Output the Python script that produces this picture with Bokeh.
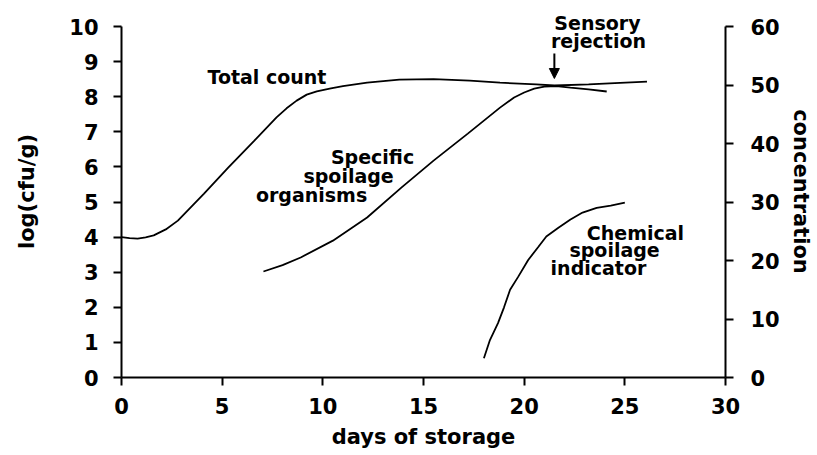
from bokeh.plotting import figure
from bokeh.models import Range1d, LinearAxis, SingleIntervalTicker, Label, Arrow, NormalHead
from bokeh.embed import file_html
from bokeh.resources import INLINE

# --- data ---
tc_days = [0, 0.4, 0.8, 1.2, 1.6, 2.2, 2.8, 4.1, 5.3, 6.6, 7.7, 8.2, 8.7, 9.2, 9.7, 10.4, 11.0, 12.2, 13.8, 15.5, 17.3, 18.8, 20.6, 21.5, 23.2, 24.5, 26.1]
tc_vals = [4.0, 3.97, 3.96, 3.99, 4.05, 4.22, 4.47, 5.24, 5.98, 6.75, 7.41, 7.67, 7.89, 8.06, 8.15, 8.24, 8.3, 8.4, 8.49, 8.5, 8.46, 8.4, 8.35, 8.32, 8.35, 8.39, 8.43]

sso_days = [7.05, 8.0, 8.9, 10.5, 12.2, 13.9, 15.5, 17.2, 18.8, 19.5, 20.0, 20.5, 21.0, 21.6, 22.3, 23.2, 24.1]
sso_vals = [3.02, 3.2, 3.42, 3.9, 4.56, 5.41, 6.18, 6.95, 7.69, 7.98, 8.12, 8.23, 8.29, 8.3, 8.26, 8.21, 8.15]

chem_days = [18.0, 18.3, 18.7, 19.0, 19.3, 19.7, 20.2, 20.7, 21.1, 21.7, 22.3, 22.9, 23.6, 24.3, 25.0]
chem_vals = [3.3, 6.4, 9.3, 12.0, 15.0, 17.2, 20.1, 22.3, 24.1, 25.6, 27.0, 28.2, 29.0, 29.4, 29.9]

rejection_day = 21.5

FONT = "DejaVu Sans"

p = figure(width=815, height=453, output_backend="svg", toolbar_location=None,
           x_range=Range1d(0, 30), y_range=Range1d(0, 10.6),
           min_border_left=121, min_border_top=5, min_border_right=90, min_border_bottom=76)
p.outline_line_color = None
p.xgrid.visible = False
p.ygrid.visible = False
p.extra_y_ranges = {"conc": Range1d(0, 63.6)}

ax_r = LinearAxis(y_range_name="conc")
p.add_layout(ax_r, "right")

p.xaxis.ticker = SingleIntervalTicker(interval=5)
p.yaxis[0].ticker = SingleIntervalTicker(interval=1)
ax_r.ticker = SingleIntervalTicker(interval=10)
p.yaxis[0].bounds = (0, 10)
ax_r.bounds = (0, 60)

p.xaxis.axis_label = "days of storage"
p.yaxis[0].axis_label = "log(cfu/g)"
ax_r.axis_label = "concentration"

for ax in [p.xaxis[0], p.yaxis[0], ax_r]:
    ax.axis_line_width = 2
    ax.axis_line_color = "black"
    ax.major_tick_line_width = 2
    ax.major_tick_line_color = "black"
    ax.major_tick_out = 8
    ax.major_tick_in = 0
    ax.minor_tick_out = 0
    ax.minor_tick_in = 0
    ax.major_label_text_font = FONT
    ax.major_label_text_font_style = "bold"
    ax.major_label_text_font_size = "21px"
    ax.major_label_text_color = "black"
    ax.axis_label_text_font = FONT
    ax.axis_label_text_font_style = "bold"
    ax.axis_label_text_font_size = "21px"
    ax.axis_label_text_color = "black"

p.xaxis.major_label_standoff = 12
p.xaxis.axis_label_standoff = 8
p.yaxis[0].major_label_standoff = 15
p.yaxis[0].axis_label_standoff = 27
ax_r.major_label_standoff = 17
ax_r.axis_label_standoff = 6

p.line(tc_days, tc_vals, line_color="black", line_width=1.8)
p.line(sso_days, sso_vals, line_color="black", line_width=1.8)
p.line(chem_days, chem_vals, line_color="black", line_width=1.8, y_range_name="conc")

p.add_layout(Arrow(end=NormalHead(size=10, fill_color="black", line_color="black"),
                   x_start=rejection_day, y_start=9.23, x_end=rejection_day, y_end=8.52,
                   line_color="black", line_width=2))

def lab(x, y, t, align="center"):
    p.add_layout(Label(x=x, y=y, text=t, text_font=FONT, text_font_style="bold",
                       text_font_size="19px", text_align=align, text_baseline="middle",
                       text_color="black"))

lab(4.27, 8.55, "Total count", "left")
lab(12.47, 6.27, "Specific")
lab(11.28, 5.75, "spoilage")
lab(9.44, 5.19, "organisms")
lab(23.64, 10.11, "Sensory")
lab(23.69, 9.60, "rejection")
lab(25.53, 4.13, "Chemical")
lab(24.49, 3.62, "spoilage")
lab(23.69, 3.11, "indicator")

open("out.html", "w").write(file_html(p, INLINE))
